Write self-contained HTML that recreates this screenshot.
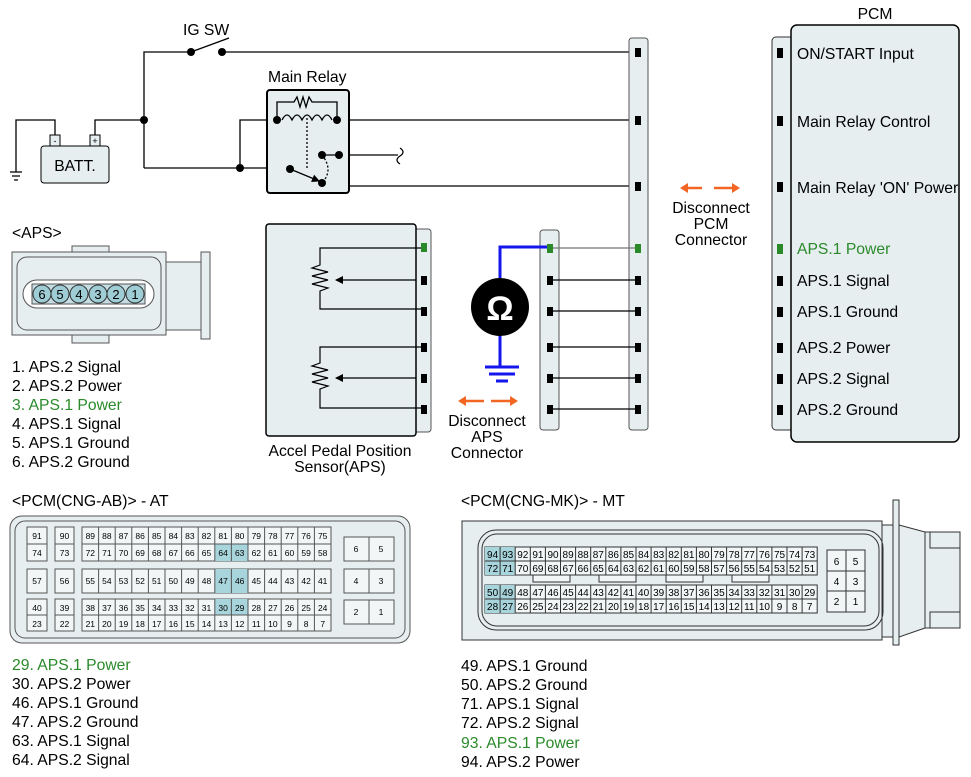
<!DOCTYPE html>
<html><head><meta charset="utf-8"><style>
html,body{margin:0;padding:0;background:#fff;}
svg{display:block;font-family:"Liberation Sans",Arial,sans-serif;}
</style></head><body>
<svg width="971" height="777" viewBox="0 0 971 777" xmlns="http://www.w3.org/2000/svg">
<defs>
<marker id="ah" markerWidth="8" markerHeight="8" refX="7" refY="4" orient="auto" markerUnits="userSpaceOnUse"><path d="M0,0 L8,4 L0,8 Z" fill="#000"/></marker>
</defs>
<g stroke="#000" stroke-width="1.3" fill="none">
<path d="M144,168 V52 H191"/>
<path d="M222,52 H637"/>
<path d="M191,52 L229,38"/>
<path d="M95,135 V120 H144"/>
<path d="M55,135 V120 H16 V172"/>
<path d="M10,172 H22 M12,176 H20 M14,180 H18"/>
<path d="M144,168 H290"/>
<path d="M240,168 V120 H277"/>
<path d="M337,120 H637"/>
<path d="M339,155 H398"/>
<path d="M400,148 q6,4 0,8 q-6,4 0,8"/>
<path d="M339,155 V186 H637"/>
</g>
<rect x="267" y="90" width="82" height="103" rx="3" fill="#e6eef0" stroke="#000" stroke-width="2"/>
<g stroke="#000" stroke-width="1.3" fill="none">
<path d="M277,120 V102 H294 l3,-5 3,10 3,-10 3,10 3,-10 3,5 H337 V120"/>
<path d="M282,120 q5,-10 10,0 q5,-10 10,0 q5,-10 10,0 q5,-10 10,0 q5,-10 10,0"/>
<path d="M307,118 V170" stroke-dasharray="2,2"/>
<path d="M322,155 q12,15 0,28" stroke-dasharray="2,2"/>
<path d="M290,169 L319,181" marker-end="url(#ah)"/>
</g>
<g fill="#000">
<circle cx="191" cy="52" r="4"/><circle cx="222" cy="52" r="4"/>
<circle cx="144" cy="120" r="4"/><circle cx="240" cy="168" r="4"/>
<circle cx="277" cy="120" r="4"/><circle cx="337" cy="120" r="4"/>
<circle cx="290" cy="169" r="4"/><circle cx="322" cy="183" r="4"/>
<circle cx="322" cy="155" r="4"/><circle cx="339" cy="155" r="4"/>
</g>
<line x1="322" y1="155" x2="339" y2="155" stroke="#000" stroke-width="1.3"/>
<text x="268" y="82" font-size="15.7">Main Relay</text>
<text x="183" y="35" font-size="15.7">IG SW</text>
<rect x="50" y="135" width="10" height="11" fill="#e6eef0" stroke="#000"/>
<rect x="90" y="135" width="10" height="11" fill="#e6eef0" stroke="#000"/>
<text x="55" y="144" font-size="9" text-anchor="middle">-</text>
<text x="95" y="144" font-size="9" text-anchor="middle">+</text>
<rect x="41" y="146" width="68" height="37" rx="3" fill="#e6eef0" stroke="#000"/>
<text x="75" y="171" font-size="15.7" text-anchor="middle">BATT.</text>

<rect x="629" y="38" width="19" height="392" rx="3" fill="#e6eef0" stroke="#555"/>
<rect x="772" y="37" width="22" height="393" rx="4" fill="#e6eef0" stroke="#333"/>
<rect x="791" y="25" width="168" height="417" rx="6" fill="#e6eef0" stroke="#000" stroke-width="1.5"/>
<text x="875" y="19" font-size="15.7" text-anchor="middle">PCM</text>
<g font-size="15.7">
<text x="797" y="59">ON/START Input</text>
<text x="797" y="127">Main Relay Control</text>
<text x="797" y="193">Main Relay 'ON' Power</text>
<text x="797" y="254" fill="#2a8a2a">APS.1 Power</text>
<text x="797" y="286">APS.1 Signal</text>
<text x="797" y="317">APS.1 Ground</text>
<text x="797" y="353">APS.2 Power</text>
<text x="797" y="384">APS.2 Signal</text>
<text x="797" y="415">APS.2 Ground</text>
</g>
<g fill="#000">
<rect x="777" y="48" width="6" height="10"/><rect x="777" y="116" width="6" height="10"/><rect x="777" y="182" width="6" height="10"/>
<rect x="777" y="244" width="6" height="10" fill="#2a8a2a"/><rect x="777" y="276" width="6" height="10"/><rect x="777" y="307" width="6" height="10"/>
<rect x="777" y="343" width="6" height="10"/><rect x="777" y="374" width="6" height="10"/><rect x="777" y="405" width="6" height="10"/>
</g>
<g stroke="#f26522" stroke-width="2.5" fill="#f26522">
<line x1="686" y1="188" x2="702" y2="188"/><path d="M680,188 l8,-5 v10 z" stroke="none"/>
<line x1="714" y1="188" x2="734" y2="188"/><path d="M740,188 l-8,-5 v10 z" stroke="none"/>
</g>
<g font-size="15.7" text-anchor="middle">
<text x="711" y="213">Disconnect</text><text x="711" y="229">PCM</text><text x="711" y="245">Connector</text>
</g>

<rect x="540" y="230" width="19" height="200" rx="3" fill="#e6eef0" stroke="#555"/>
<g stroke="#000" stroke-width="1.2">
<line x1="551" y1="248" x2="637" y2="248" stroke="#777"/>
<line x1="551" y1="280" x2="637" y2="280"/><line x1="551" y1="311" x2="637" y2="311"/>
<line x1="551" y1="347" x2="637" y2="347"/><line x1="551" y1="378" x2="637" y2="378"/><line x1="551" y1="409" x2="637" y2="409"/>
</g>
<g fill="#000">
<rect x="635" y="48" width="6" height="9"/><rect x="635" y="116" width="6" height="9"/><rect x="635" y="182" width="6" height="9"/>
<rect x="635" y="244" width="6" height="9" fill="#2a8a2a"/><rect x="635" y="276" width="6" height="9"/><rect x="635" y="307" width="6" height="9"/>
<rect x="635" y="343" width="6" height="9"/><rect x="635" y="374" width="6" height="9"/><rect x="635" y="405" width="6" height="9"/>
<rect x="547" y="244" width="6" height="9" fill="#2a8a2a"/><rect x="547" y="276" width="6" height="9"/><rect x="547" y="307" width="6" height="9"/>
<rect x="547" y="343" width="6" height="9"/><rect x="547" y="374" width="6" height="9"/><rect x="547" y="405" width="6" height="9"/>
</g>
<path d="M500,278 V247 H547" stroke="#1515ee" stroke-width="3" fill="none"/>
<path d="M500,335 V366" stroke="#1515ee" stroke-width="3"/>
<path d="M485,367 H519 M489,374 H515 M496,381 H508" stroke="#1515ee" stroke-width="3"/>
<circle cx="500" cy="307" r="29" fill="#000"/>
<text x="500" y="320" font-size="34" fill="#fff" text-anchor="middle" font-weight="bold">Ω</text>
<g stroke="#f26522" stroke-width="2.5" fill="#f26522">
<line x1="464" y1="401" x2="484" y2="401"/><path d="M458,401 l8,-5 v10 z" stroke="none"/>
<line x1="491" y1="401" x2="511" y2="401"/><path d="M518,401 l-8,-5 v10 z" stroke="none"/>
</g>
<g font-size="15.7" text-anchor="middle">
<text x="487" y="426">Disconnect</text><text x="487" y="442">APS</text><text x="487" y="458">Connector</text>
</g>

<rect x="412" y="229" width="19" height="203" rx="3" fill="#e6eef0" stroke="#555"/>
<rect x="266" y="224" width="150" height="212" rx="3" fill="#e6eef0" stroke="#000" stroke-width="1.5"/>
<g stroke="#000" stroke-width="1.2" fill="none">
<path d="M423,248 H320 V265 l-8,3 16,4 -16,4 16,4 -16,4 16,4 -8,3 V309 H423"/>
<path d="M416,280 H336" marker-end="url(#ah)"/>
<path d="M423,347 H320 V363 l-8,3 16,4 -16,4 16,4 -16,4 16,4 -8,3 V408 H423"/>
<path d="M416,378 H336" marker-end="url(#ah)"/>
</g>
<g fill="#000">
<rect x="421" y="243" width="6" height="9" fill="#2a8a2a"/><rect x="421" y="276" width="6" height="9"/><rect x="421" y="307" width="6" height="9"/>
<rect x="421" y="343" width="6" height="9"/><rect x="421" y="374" width="6" height="9"/><rect x="421" y="405" width="6" height="9"/>
</g>
<g font-size="15.7" text-anchor="middle"><text x="340" y="456">Accel Pedal Position</text><text x="340" y="472">Sensor(APS)</text></g>

<text x="12" y="238" font-size="15.7">&lt;APS&gt;</text>
<rect x="72" y="246" width="37" height="8" fill="#e6eef0" stroke="#555"/>
<rect x="72" y="335" width="37" height="8" fill="#e6eef0" stroke="#555"/>
<rect x="166" y="262" width="36" height="68" fill="#e6eef0" stroke="#555"/>
<rect x="201" y="252" width="9" height="87" fill="#e6eef0" stroke="#555"/>
<rect x="12" y="252" width="154" height="83" fill="#e6eef0" stroke="#555"/>
<rect x="17" y="257" width="144" height="73" rx="10" fill="none" stroke="#555"/>
<rect x="23" y="280" width="131" height="28" rx="14" fill="#fff" stroke="#555"/>
<rect x="32" y="284" width="113" height="20" fill="#c5dde2" stroke="#555"/>
<g fill="#9fcdd6" stroke="#333"><circle cx="42" cy="294" r="9"/><circle cx="60" cy="294" r="9"/><circle cx="79" cy="294" r="9"/><circle cx="98" cy="294" r="9"/><circle cx="116" cy="294" r="9"/><circle cx="135" cy="294" r="9"/></g>
<g font-size="13" text-anchor="middle"><text x="42" y="299">6</text><text x="60" y="299">5</text><text x="79" y="299">4</text><text x="98" y="299">3</text><text x="116" y="299">2</text><text x="135" y="299">1</text></g>
<g font-size="15.7">
<text x="12" y="372">1. APS.2 Signal</text>
<text x="12" y="391">2. APS.2 Power</text>
<text x="12" y="410" fill="#2a8a2a">3. APS.1 Power</text>
<text x="12" y="429">4. APS.1 Signal</text>
<text x="12" y="448">5. APS.1 Ground</text>
<text x="12" y="467">6. APS.2 Ground</text>
</g>

<text x="12" y="506" font-size="15.7">&lt;PCM(CNG-AB)&gt; - AT</text>
<rect x="10" y="516" width="400" height="127" rx="12" fill="#e6eef0" stroke="#555"/>
<rect x="15" y="521" width="390" height="117" rx="10" fill="none" stroke="#555"/>
<g fill="#f2f6f7" stroke="#555">
<rect x="27" y="527" width="20" height="34"/><rect x="55" y="527" width="19" height="34"/><rect x="82" y="527" width="249" height="34"/>
<rect x="27" y="569" width="20" height="24"/><rect x="55" y="569" width="19" height="24"/><rect x="82" y="569" width="249" height="24"/>
<rect x="27" y="599" width="20" height="32"/><rect x="55" y="599" width="19" height="32"/><rect x="82" y="599" width="249" height="32"/>
<rect x="344" y="537" width="50" height="24"/><rect x="344" y="569" width="50" height="24"/><rect x="344" y="600" width="50" height="24"/>
</g>
<g fill="#a8d4dc"><rect x="214.8" y="544" width="33.2" height="17"/><rect x="214.8" y="569" width="33.2" height="24"/><rect x="214.8" y="599" width="33.2" height="16"/></g>
<path d="M82,544 H331 M82,615 H331 M27,544 H47 M55,544 H74 M27,615 H47 M55,615 H74 M369,537 V561 M369,569 V593 M369,600 V624
M98.6,527V561 M115.2,527V561 M131.8,527V561 M148.4,527V561 M165,527V561 M181.6,527V561 M198.2,527V561 M214.8,527V561 M231.4,527V561 M248,527V561 M264.6,527V561 M281.2,527V561 M297.8,527V561 M314.4,527V561
M98.6,569V593 M115.2,569V593 M131.8,569V593 M148.4,569V593 M165,569V593 M181.6,569V593 M198.2,569V593 M214.8,569V593 M231.4,569V593 M248,569V593 M264.6,569V593 M281.2,569V593 M297.8,569V593 M314.4,569V593
M98.6,599V631 M115.2,599V631 M131.8,599V631 M148.4,599V631 M165,599V631 M181.6,599V631 M198.2,599V631 M214.8,599V631 M231.4,599V631 M248,599V631 M264.6,599V631 M281.2,599V631 M297.8,599V631 M314.4,599V631" stroke="#555" fill="none"/>
<g font-size="8.5" text-anchor="middle">
<text x="37" y="539">91</text><text x="64.5" y="539">90</text><text x="37" y="556">74</text><text x="64.5" y="556">73</text>
<text x="37" y="584">57</text><text x="64.5" y="584">56</text>
<text x="37" y="611">40</text><text x="64.5" y="611">39</text><text x="37" y="627">23</text><text x="64.5" y="627">22</text>
<text x="356" y="552">6</text><text x="381" y="552">5</text><text x="356" y="584">4</text><text x="381" y="584">3</text><text x="356" y="615">2</text><text x="381" y="615">1</text>
</g>
<g font-size="8.5" text-anchor="middle">
<text y="539"><tspan x="90.3">89</tspan><tspan x="106.9">88</tspan><tspan x="123.5">87</tspan><tspan x="140.1">86</tspan><tspan x="156.7">85</tspan><tspan x="173.3">84</tspan><tspan x="189.9">83</tspan><tspan x="206.5">82</tspan><tspan x="223.1">81</tspan><tspan x="239.7">80</tspan><tspan x="256.3">79</tspan><tspan x="272.9">78</tspan><tspan x="289.5">77</tspan><tspan x="306.1">76</tspan><tspan x="322.7">75</tspan></text>
<text y="556"><tspan x="90.3">72</tspan><tspan x="106.9">71</tspan><tspan x="123.5">70</tspan><tspan x="140.1">69</tspan><tspan x="156.7">68</tspan><tspan x="173.3">67</tspan><tspan x="189.9">66</tspan><tspan x="206.5">65</tspan><tspan x="223.1">64</tspan><tspan x="239.7">63</tspan><tspan x="256.3">62</tspan><tspan x="272.9">61</tspan><tspan x="289.5">60</tspan><tspan x="306.1">59</tspan><tspan x="322.7">58</tspan></text>
<text y="584"><tspan x="90.3">55</tspan><tspan x="106.9">54</tspan><tspan x="123.5">53</tspan><tspan x="140.1">52</tspan><tspan x="156.7">51</tspan><tspan x="173.3">50</tspan><tspan x="189.9">49</tspan><tspan x="206.5">48</tspan><tspan x="223.1">47</tspan><tspan x="239.7">46</tspan><tspan x="256.3">45</tspan><tspan x="272.9">44</tspan><tspan x="289.5">43</tspan><tspan x="306.1">42</tspan><tspan x="322.7">41</tspan></text>
<text y="611"><tspan x="90.3">38</tspan><tspan x="106.9">37</tspan><tspan x="123.5">36</tspan><tspan x="140.1">35</tspan><tspan x="156.7">34</tspan><tspan x="173.3">33</tspan><tspan x="189.9">32</tspan><tspan x="206.5">31</tspan><tspan x="223.1">30</tspan><tspan x="239.7">29</tspan><tspan x="256.3">28</tspan><tspan x="272.9">27</tspan><tspan x="289.5">26</tspan><tspan x="306.1">25</tspan><tspan x="322.7">24</tspan></text>
<text y="627"><tspan x="90.3">21</tspan><tspan x="106.9">20</tspan><tspan x="123.5">19</tspan><tspan x="140.1">18</tspan><tspan x="156.7">17</tspan><tspan x="173.3">16</tspan><tspan x="189.9">15</tspan><tspan x="206.5">14</tspan><tspan x="223.1">13</tspan><tspan x="239.7">12</tspan><tspan x="256.3">11</tspan><tspan x="272.9">10</tspan><tspan x="289.5">9</tspan><tspan x="306.1">8</tspan><tspan x="322.7">7</tspan></text>
</g>
<g font-size="15.7">
<text x="12" y="670" fill="#2a8a2a">29. APS.1 Power</text>
<text x="12" y="689">30. APS.2 Power</text>
<text x="12" y="708">46. APS.1 Ground</text>
<text x="12" y="727">47. APS.2 Ground</text>
<text x="12" y="746">63. APS.1 Signal</text>
<text x="12" y="765">64. APS.2 Signal</text>
</g>

<text x="461" y="506" font-size="15.7">&lt;PCM(CNG-MK)&gt; - MT</text>
<g fill="#e6eef0" stroke="#333">
<rect x="925" y="532" width="35" height="96"/>
<rect x="930" y="532" width="30" height="16" fill="#e6eef0"/><rect x="930" y="612" width="30" height="16"/>
<path d="M899,525 L925,532 V628 L899,637 Z"/>
<rect x="882" y="525" width="11" height="112"/>
<rect x="893" y="500" width="6" height="145"/>
<rect x="462" y="521" width="420" height="119"/>
</g>
<rect x="478" y="530" width="405" height="100" rx="18" fill="none" stroke="#333"/>
<rect x="482" y="534" width="397" height="92" rx="15" fill="none" stroke="#333"/>
<g fill="#f2f6f7" stroke="#333">
<rect x="485" y="547" width="332.2" height="28"/><rect x="485" y="585" width="332.2" height="28"/>
<rect x="827" y="550" width="38" height="62"/>
<rect x="533" y="575" width="37" height="7"/><rect x="599" y="575" width="37" height="7"/><rect x="666" y="575" width="37" height="7"/><rect x="732" y="575" width="37" height="7"/>
</g>
<g fill="#a8d4dc"><rect x="485" y="547" width="30.2" height="28"/><rect x="485" y="585" width="30.2" height="28"/></g>
<path d="M485,561 H817.2 M485,599 H817.2 M827,571 H865 M827,591 H865 M846,550 V612
M500.1,547V575 M515.2,547V575 M530.3,547V575 M545.4,547V575 M560.5,547V575 M575.6,547V575 M590.7,547V575 M605.8,547V575 M620.9,547V575 M636,547V575 M651.1,547V575 M666.2,547V575 M681.3,547V575 M696.4,547V575 M711.5,547V575 M726.6,547V575 M741.7,547V575 M756.8,547V575 M771.9,547V575 M787,547V575 M802.1,547V575
M500.1,585V613 M515.2,585V613 M530.3,585V613 M545.4,585V613 M560.5,585V613 M575.6,585V613 M590.7,585V613 M605.8,585V613 M620.9,585V613 M636,585V613 M651.1,585V613 M666.2,585V613 M681.3,585V613 M696.4,585V613 M711.5,585V613 M726.6,585V613 M741.7,585V613 M756.8,585V613 M771.9,585V613 M787,585V613 M802.1,585V613" stroke="#333" fill="none"/>
<g font-size="10" text-anchor="middle">
<text y="558"><tspan x="492.6">94</tspan><tspan x="507.7">93</tspan><tspan x="522.8">92</tspan><tspan x="537.9">91</tspan><tspan x="553">90</tspan><tspan x="568.1">89</tspan><tspan x="583.2">88</tspan><tspan x="598.3">87</tspan><tspan x="613.4">86</tspan><tspan x="628.5">85</tspan><tspan x="643.6">84</tspan><tspan x="658.7">83</tspan><tspan x="673.8">82</tspan><tspan x="688.9">81</tspan><tspan x="704">80</tspan><tspan x="719.1">79</tspan><tspan x="734.2">78</tspan><tspan x="749.3">77</tspan><tspan x="764.4">76</tspan><tspan x="779.5">75</tspan><tspan x="794.6">74</tspan><tspan x="809.7">73</tspan></text>
<text y="572"><tspan x="492.6">72</tspan><tspan x="507.7">71</tspan><tspan x="522.8">70</tspan><tspan x="537.9">69</tspan><tspan x="553">68</tspan><tspan x="568.1">67</tspan><tspan x="583.2">66</tspan><tspan x="598.3">65</tspan><tspan x="613.4">64</tspan><tspan x="628.5">63</tspan><tspan x="643.6">62</tspan><tspan x="658.7">61</tspan><tspan x="673.8">60</tspan><tspan x="688.9">59</tspan><tspan x="704">58</tspan><tspan x="719.1">57</tspan><tspan x="734.2">56</tspan><tspan x="749.3">55</tspan><tspan x="764.4">54</tspan><tspan x="779.5">53</tspan><tspan x="794.6">52</tspan><tspan x="809.7">51</tspan></text>
<text y="596"><tspan x="492.6">50</tspan><tspan x="507.7">49</tspan><tspan x="522.8">48</tspan><tspan x="537.9">47</tspan><tspan x="553">46</tspan><tspan x="568.1">45</tspan><tspan x="583.2">44</tspan><tspan x="598.3">43</tspan><tspan x="613.4">42</tspan><tspan x="628.5">41</tspan><tspan x="643.6">40</tspan><tspan x="658.7">39</tspan><tspan x="673.8">38</tspan><tspan x="688.9">37</tspan><tspan x="704">36</tspan><tspan x="719.1">35</tspan><tspan x="734.2">34</tspan><tspan x="749.3">33</tspan><tspan x="764.4">32</tspan><tspan x="779.5">31</tspan><tspan x="794.6">30</tspan><tspan x="809.7">29</tspan></text>
<text y="610"><tspan x="492.6">28</tspan><tspan x="507.7">27</tspan><tspan x="522.8">26</tspan><tspan x="537.9">25</tspan><tspan x="553">24</tspan><tspan x="568.1">23</tspan><tspan x="583.2">22</tspan><tspan x="598.3">21</tspan><tspan x="613.4">20</tspan><tspan x="628.5">19</tspan><tspan x="643.6">18</tspan><tspan x="658.7">17</tspan><tspan x="673.8">16</tspan><tspan x="688.9">15</tspan><tspan x="704">14</tspan><tspan x="719.1">13</tspan><tspan x="734.2">12</tspan><tspan x="749.3">11</tspan><tspan x="764.4">10</tspan><tspan x="779.5">9</tspan><tspan x="794.6">8</tspan><tspan x="809.7">7</tspan></text>
<text x="836.5" y="565">6</text><text x="855.5" y="565">5</text><text x="836.5" y="585">4</text><text x="855.5" y="585">3</text><text x="836.5" y="605">2</text><text x="855.5" y="605">1</text>
</g>
<g font-size="15.7">
<text x="461" y="671">49. APS.1 Ground</text>
<text x="461" y="690">50. APS.2 Ground</text>
<text x="461" y="709">71. APS.1 Signal</text>
<text x="461" y="728">72. APS.2 Signal</text>
<text x="461" y="748" fill="#2a8a2a">93. APS.1 Power</text>
<text x="461" y="767">94. APS.2 Power</text>
</g>
</svg>
</body></html>
